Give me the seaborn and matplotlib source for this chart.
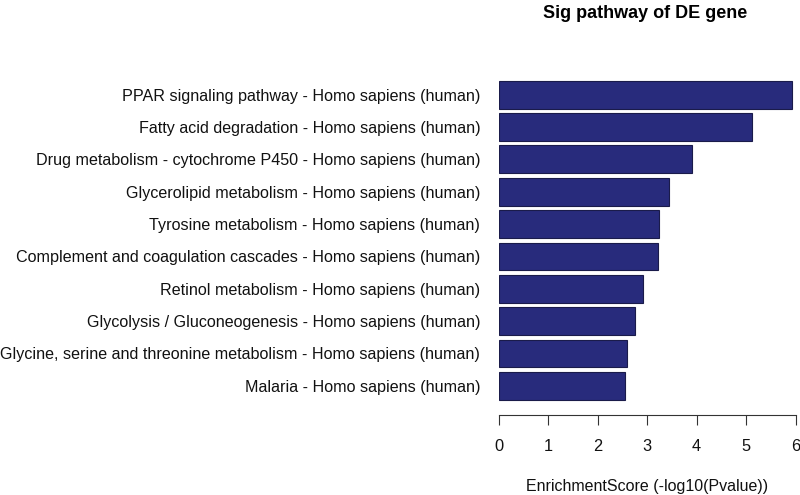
import matplotlib
matplotlib.use('Agg')
import matplotlib.pyplot as plt
import seaborn as sns
import pandas as pd

# pathways and enrichment scores
pathways = [
    "PPAR signaling pathway - Homo sapiens (human)",
    "Fatty acid degradation - Homo sapiens (human)",
    "Drug metabolism - cytochrome P450 - Homo sapiens (human)",
    "Glycerolipid metabolism - Homo sapiens (human)",
    "Tyrosine metabolism - Homo sapiens (human)",
    "Complement and coagulation cascades - Homo sapiens (human)",
    "Retinol metabolism - Homo sapiens (human)",
    "Glycolysis / Gluconeogenesis - Homo sapiens (human)",
    "Glycine, serine and threonine metabolism - Homo sapiens (human)",
    "Malaria - Homo sapiens (human)",
]
scores = [5.92, 5.12, 3.90, 3.44, 3.24, 3.22, 2.91, 2.75, 2.60, 2.55]
x_ticks = [0, 1, 2, 3, 4, 5, 6]

df = pd.DataFrame({"pathway": pathways, "score": scores})

sns.set_style("white")
plt.rcParams['font.family'] = ['Liberation Sans', 'DejaVu Sans']
plt.rcParams['text.color'] = '#111111'
plt.rcParams['axes.labelcolor'] = '#111111'
plt.rcParams['xtick.color'] = '#111111'
plt.rcParams['ytick.color'] = '#111111'

fig = plt.figure(figsize=(8, 4.95), dpi=100)
ax = fig.add_axes([0.62375, 0.1616, 0.37125, 0.6808])

sns.barplot(data=df, x="score", y="pathway", orient="h", color="#282B7C",
            width=0.86, edgecolor="#1a1b4a", linewidth=0.8, saturation=1, ax=ax)

ax.set_xlim(0, 6.01)
ax.set_ylim(9.903, -0.516)
ax.set_xticks(x_ticks)
ax.set_xticklabels([str(t) for t in x_ticks], fontsize=11.8)
ax.tick_params(axis='x', direction='out', length=7, width=0.8, color='#333333', pad=10, bottom=True)
ax.tick_params(axis='y', length=0, pad=13.5, labelsize=11.6)

for s in ["top", "right", "left"]:
    ax.spines[s].set_visible(False)
ax.spines["bottom"].set_bounds(0, 6)
ax.spines["bottom"].set_color('#333333')
ax.spines["bottom"].set_linewidth(0.8)

ax.set_ylabel("")
ax.set_xlabel("EnrichmentScore (-log10(Pvalue))", fontsize=11.5, labelpad=18)
fig.text(0.806, 0.99, "Sig pathway of DE gene", ha="center", va="top",
         fontsize=13, fontweight="bold", color="black")

fig.savefig("out.png", dpi=100)
